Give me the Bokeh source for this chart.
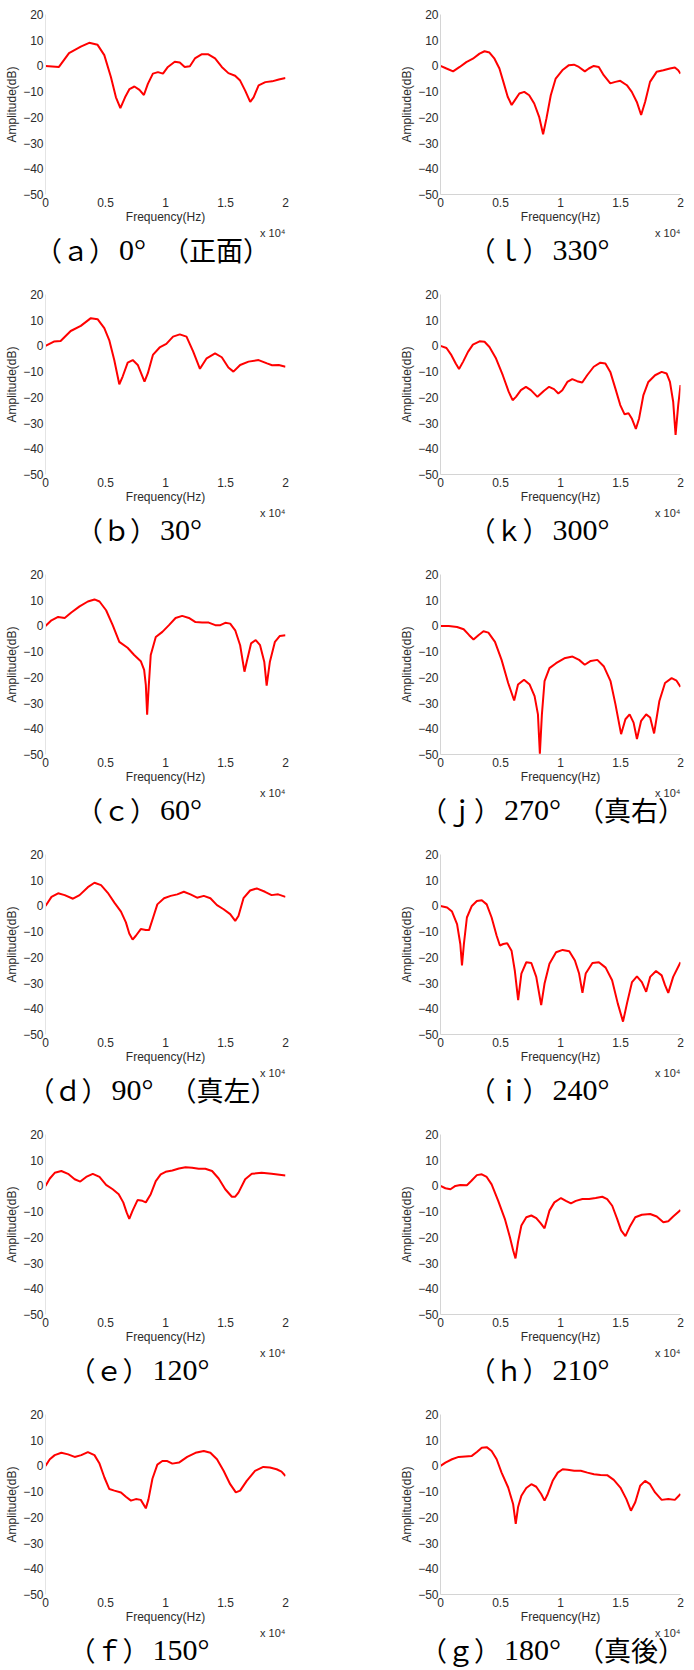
from bokeh.plotting import figure
from bokeh.layouts import column, row
from bokeh.models import Range1d, FixedTicker
from bokeh.core.properties import value
from bokeh.embed import file_html
from bokeh.resources import INLINE

# ---------------- data ----------------
x_ticks = [0, 5000, 10000, 15000, 20000]
x_tick_labels = ["0", "0.5", "1", "1.5", "2"]
y_ticks = [20, 10, 0, -10, -20, -30, -40, -50]
y_tick_labels = ["20", "10", "0", "−10", "−20", "−30", "−40", "−50"]

f_a = [0,1120,1960,2940,3640,4340,4900,5450,5870,6240,6630,7000,7410,7830,8200,8530,8950,9370,9790,10200,10770,11190,11600,12030,12450,13000,13570,14130,14690,15240,15800,16220,16640,17060,17340,17760,18320,18880,19440,20000]
db_a = [0,-0.4,5,7.5,9,8.2,4.2,-4.3,-12.2,-16.4,-12.2,-9,-8,-9.3,-11.3,-7,-3,-2.4,-3,-0.4,1.6,1.3,-0.4,-0.1,2.9,4.5,4.5,2.9,-0.4,-2.8,-3.8,-5.7,-9.6,-14,-12.2,-7.6,-6.3,-6,-5.3,-4.7]

f_b = [0,700,1260,2100,2940,3780,4340,4900,5310,5730,6150,6430,6850,7270,7690,8250,8530,8950,9510,10070,10630,11190,11750,12310,12870,13430,14130,14690,15240,15660,16220,16920,17760,18460,18880,19440,20000]
db_b = [0,1.7,1.9,5.8,7.8,10.8,10.4,6.9,2.3,-5.5,-14.9,-11.9,-6.5,-5.5,-7.4,-13.9,-10.6,-3.5,-0.6,0.8,3.6,4.5,3.6,-2.2,-8.9,-4.8,-2.9,-4.4,-8.4,-10,-7.4,-6.1,-5.5,-6.8,-7.5,-7.4,-8.1]

f_c = [0,500,1050,1600,2150,2840,3530,4080,4500,5050,5600,6150,6840,7390,7940,8220,8360,8470,8610,8770,9190,9740,10290,10840,11390,11950,12500,13050,13600,14150,14570,14980,15390,15810,16220,16580,16770,17130,17520,17880,18230,18430,18700,19120,19530,20000]
db_c = [0,2.2,3.5,3.1,5.2,7.6,9.5,10.3,9.5,6.1,0.3,-6.2,-8.5,-11.3,-13.7,-17.1,-22.9,-34.5,-22.9,-11.3,-4.3,-2.3,0.3,3.1,3.9,3.1,1.5,1.3,1.3,0.3,0.3,1.2,0.9,-1.7,-7.5,-17.8,-13.9,-6.8,-5.5,-7.5,-13.9,-23.2,-13.9,-6.2,-3.9,-3.6]

f_d = [0,500,1050,1600,2290,2840,3530,4080,4630,5190,5740,6290,6700,6980,7260,7530,7940,8360,8630,8970,9320,9880,10430,10980,11530,12080,12630,13190,13740,14290,14840,15390,15810,16080,16500,17050,17600,18290,18840,19390,20000]
db_d = [0,3.5,4.9,4.2,2.8,4.2,7.3,9,8.1,5.1,1.3,-2.2,-6.4,-10.7,-13.1,-11.6,-9,-9.4,-9.4,-4.5,0.6,3,3.9,4.5,5.5,4.5,3.2,3.9,3,0.3,-1.3,-3.2,-5.8,-3.9,3,6,6.8,5.5,4.2,4.5,3.5]

f_e = [0,360,770,1320,1880,2430,2900,3390,3940,4500,5050,5600,6100,6480,6760,6980,7260,7670,8080,8360,8770,9190,9600,10010,10570,11120,11670,12220,12770,13320,13880,14430,14980,15530,15810,16080,16640,17190,18010,18840,20000]
db_e = [0,2.9,5.1,5.8,4.7,2.6,1.7,3.5,4.7,3.5,0.4,-1.3,-3.2,-6.4,-10.3,-12.8,-9.6,-5.5,-5.8,-6.4,-3.2,1.9,4.5,5.5,6,6.8,7.3,7.1,6.7,6.7,5.8,2.9,-1.3,-4.2,-4.2,-2.6,2.6,4.7,5.1,4.7,4.1]

f_f = [0,360,770,1320,1880,2430,2980,3530,4080,4500,4910,5320,5740,6290,6700,7120,7530,7940,8360,8580,8910,9320,9740,10150,10570,11120,11810,12500,13190,13740,14290,14840,15390,15860,16220,16770,17460,18150,18700,19260,19670,20000]
db_f = [0,2.6,4.2,5.1,4.5,3.5,4.2,5.4,4.2,0.9,-4.5,-9,-9.6,-10.3,-12,-13.5,-12.9,-13.2,-16.5,-13,-5,0.5,1.9,1.9,0.9,1.3,3.5,5.1,5.8,5.1,2.6,-1.9,-7.1,-10.3,-9.6,-5.8,-1.9,-0.4,-0.6,-1.3,-2.2,-3.9]

f_g = [0,410,960,1510,2060,2610,3030,3440,3850,4260,4680,5090,5640,6050,6270,6460,6740,7150,7570,7980,8390,8670,8940,9350,9770,10180,10590,11140,11690,12240,12790,13340,13890,14440,14990,15490,15870,16230,16640,17050,17460,17880,18430,18980,19530,20000]
db_g = [0,1.3,2.6,3.5,3.7,3.9,5.4,7.1,7.3,5.8,2.6,-2.6,-8.4,-14.8,-22.5,-16.1,-11.6,-8.6,-7.1,-8.1,-10.9,-13.5,-10.9,-5.8,-2.6,-1.3,-1.5,-1.9,-1.9,-2.6,-3.2,-3.5,-3.6,-5.4,-8.4,-12.9,-17.4,-14.1,-7.7,-5.8,-7.1,-10.3,-13.2,-12.9,-13.2,-10.9]

f_h = [0,410,830,1240,1650,2200,2560,3030,3440,3850,4260,4810,5360,5780,6050,6250,6460,6740,7150,7570,7980,8340,8670,9080,9490,10040,10450,10870,11280,11830,12380,12930,13480,13890,14310,14720,15050,15410,15760,16230,16780,17470,18020,18570,18980,19390,20000]
db_h = [0,-0.9,-1.3,0,0.4,0.3,1.9,4.2,4.5,3.5,0.6,-5.8,-12.8,-19.9,-25,-28.2,-21.8,-15.4,-12.2,-11.5,-12.5,-14.5,-16.5,-9.6,-6.4,-4.7,-5.8,-6.8,-5.8,-5.1,-5.1,-4.7,-4.2,-5.1,-7.7,-12.8,-17.3,-19.5,-16,-12.2,-11.2,-10.9,-11.9,-14.1,-13.7,-11.9,-9.4]

f_i = [0,550,960,1380,1650,1790,1950,2200,2610,3030,3440,3850,4260,4680,4950,5230,5560,5920,6190,6470,6740,7150,7570,7980,8390,8670,9080,9630,10180,10730,11200,11550,11830,12100,12660,13200,13760,14300,14770,15210,15540,15960,16370,16780,17140,17470,17960,18430,18710,18980,19390,20000]
db_i = [0,-0.6,-2.2,-7.1,-14.8,-23.1,-14.8,-4.5,0,1.9,2.2,0.6,-4.5,-11.6,-15.4,-14.8,-14.5,-17.4,-25.1,-36.6,-26.3,-21.9,-22.2,-27.6,-38.6,-30.2,-22.5,-18,-17.1,-17.6,-21.2,-26.3,-33.8,-26.3,-22.2,-21.9,-24,-28.9,-37.9,-45,-37.9,-29.6,-27.4,-29.6,-33.4,-27.6,-25.3,-27,-30.8,-33.8,-27.6,-21.9]

f_j = [0,690,1380,1930,2390,2750,3160,3580,3990,4540,5090,5640,6140,6460,6960,7430,7840,8120,8280,8450,8670,9080,9630,10320,11000,11550,12020,12520,13070,13620,14170,14580,15050,15410,15760,16090,16370,16720,17140,17470,17800,18240,18710,19260,19670,20000]
db_j = [0,0,-0.4,-1.3,-3.6,-5.3,-3.6,-2.1,-2.6,-6.2,-13.2,-22.2,-29,-22.8,-20.9,-22.8,-27.3,-34.4,-49.7,-34.4,-21.5,-16.4,-14.5,-12.6,-11.9,-13.2,-15.1,-13.6,-13.2,-15.8,-21.5,-30.5,-42.1,-36.3,-34.4,-37.6,-44,-36.9,-34.4,-35.6,-41.8,-29.2,-22.2,-20.3,-21.3,-23.7]

f_k = [0,497,910,1270,1545,1876,2290,2700,3255,3670,4080,4630,5190,5680,6010,6290,6700,7120,7530,8080,8630,9050,9460,9820,10150,10570,10980,11390,11810,12220,12770,13320,13740,14150,14570,14980,15340,15670,15940,16280,16550,16910,17320,17880,18430,18840,19120,19390,19590,19810,20000]
db_k = [0,-0.8,-3.6,-6.8,-9,-6.2,-2.3,0.5,1.8,1.6,-0.4,-4.9,-11.4,-17.8,-21.1,-19.8,-17.2,-15.9,-17.2,-19.8,-17.4,-15.9,-16.8,-18.5,-17.2,-14,-12.9,-13.7,-14.2,-11.4,-8.1,-6.5,-6.8,-10.1,-16.5,-23,-26.6,-26.2,-28.2,-32.3,-28.2,-19.1,-14,-11.4,-10.1,-10.7,-14,-21.7,-34.6,-23,-15.2]

f_l = [0,497,1048,1600,2150,2700,3255,3670,4080,4500,4910,5240,5600,5930,6200,6570,6980,7390,7810,8220,8550,8830,9190,9600,10150,10700,11120,11530,12030,12360,12770,13190,13600,14150,14570,14980,15530,15940,16360,16720,17050,17460,18010,18570,19120,19530,19810,20000]
db_l = [0,-1,-2.1,-0.4,1.5,2.8,4.8,5.7,5.2,2.8,-1,-6.2,-12,-15.2,-13.3,-10.7,-10.1,-11.4,-14.6,-19.8,-26.6,-20.4,-11.4,-4.9,-1.7,0.3,0.5,-0.4,-2.1,-1,0,-0.4,-3.6,-6.8,-6.2,-5.8,-7.5,-10.1,-14,-19.1,-14,-6.2,-2.3,-1.7,-1,-0.6,-1.7,-3]

left_prefix = ["（ａ）", "（ｂ）", "（ｃ）", "（ｄ）", "（ｅ）", "（ｆ）"]
left_angle = ["0°", "30°", "60°", "90°", "120°", "150°"]
left_suffix = ["（正面）", "", "", "（真左）", "", ""]
right_prefix = ["（ｌ）", "（ｋ）", "（ｊ）", "（ｉ）", "（ｈ）", "（ｇ）"]
right_angle = ["330°", "300°", "270°", "240°", "210°", "180°"]
right_suffix = ["", "", "（真右）", "", "", "（真後）"]
multiplier_text = "x 10⁴"

left_data = [(f_a, db_a), (f_b, db_b), (f_c, db_c), (f_d, db_d), (f_e, db_e), (f_f, db_f)]
right_data = [(f_l, db_l), (f_k, db_k), (f_j, db_j), (f_i, db_i), (f_h, db_h), (f_g, db_g)]

# ---------------- layout (page pixels, page has no margin) ----------------
FW, FH = 240, 180
BT, BB = 14, 33
ROW_H, LAST_ROW_H = 280, 270
CAP_Y = 22
BORDERS = {"L": (45, 62), "R": (93, 12)}
LEFT_W = sum(BORDERS["L"]) + FW            # 347
RIGHT_W = sum(BORDERS["R"]) + FW           # 345
TOTAL_W = LEFT_W + RIGHT_W                 # 692
FRAME_RIGHT = {"L": BORDERS["L"][0] + FW, "R": LEFT_W + BORDERS["R"][0] + FW}
CAP_CENTER = {"L": 152, "R": 552}
X0, X1, Y0, Y1 = 0, 20000, -50, 20
CJK = "Noto Sans CJK JP"
SANS = "Liberation Sans"
SERIF = "Liberation Serif"
CJK_SIZE = 27
NUM_SIZE = 30
SUFFIX_GAP = 16


def make_plot(freq, amp, side):
    bl, br = BORDERS[side]
    p = figure(width=bl + FW + br, height=BT + FH + BB,
               x_range=Range1d(X0, X1), y_range=Range1d(Y0, Y1),
               output_backend="svg", toolbar_location=None,
               min_border_left=bl, min_border_right=br,
               min_border_top=BT, min_border_bottom=BB)
    p.outline_line_color = None
    p.xgrid.visible = False
    p.ygrid.visible = False
    p.background_fill_color = "white"
    p.border_fill_color = "white"

    p.line(freq, amp, line_color="#ff0000", line_width=2)

    for ax in (p.xaxis[0], p.yaxis[0]):
        ax.major_tick_in = 0
        ax.major_tick_out = 0
        ax.minor_tick_line_color = None
        ax.major_label_text_font = SANS
        ax.major_label_text_font_size = "12px"
        ax.major_label_text_color = "#2b2b2b"
        ax.axis_label_text_font = SANS
        ax.axis_label_text_font_size = "12px"
        ax.axis_label_text_font_style = "normal"
        ax.axis_label_text_color = "#2b2b2b"

    p.xaxis.ticker = FixedTicker(ticks=x_ticks)
    p.xaxis.major_label_overrides = {t: s for t, s in zip(x_ticks, x_tick_labels)}
    p.xaxis.axis_label = "Frequency(Hz)"
    p.xaxis.major_label_standoff = 3
    p.xaxis.axis_label_standoff = 0

    p.yaxis.ticker = FixedTicker(ticks=y_ticks)
    p.yaxis.major_label_overrides = {t: s for t, s in zip(y_ticks, y_tick_labels)}
    p.yaxis.axis_label = "Amplitude(dB)"
    p.yaxis.major_label_standoff = 2
    p.yaxis.axis_label_standoff = 1

    if side == "L":
        p.xaxis.axis_line_color = None
        p.yaxis.axis_line_color = "#e4e4e4"
    else:
        p.xaxis.axis_line_color = "#d4d4d4"
        p.yaxis.axis_line_color = "#d4d4d4"
    return p


def add_caption(c, prefix, angle, suffix, side, ycap):
    # "x 10^4" multiplier, right aligned under the plot's right edge
    c.text(x=[FRAME_RIGHT[side]], y=[5], text=[multiplier_text], text_align="right",
           text_baseline="middle", text_font=value(SANS),
           text_font_size=value("11px"), text_color="#2b2b2b")
    numw = (NUM_SIZE * 0.5) * (len(angle) - 1) + NUM_SIZE * 0.4
    pre_w = 3 * CJK_SIZE
    total = pre_w + 3 + numw + ((SUFFIX_GAP + 4 * CJK_SIZE) if suffix else CJK_SIZE)
    num_x = CAP_CENTER[side] - total / 2 + pre_w + 3
    c.text(x=[num_x - 3], y=[ycap], text=[prefix], text_align="right",
           text_baseline="middle", text_font=value(CJK),
           text_font_size=value(f"{CJK_SIZE}px"), text_color="black")
    c.text(x=[num_x], y=[ycap], text=[angle], text_align="left",
           text_baseline="middle", text_font=value(SERIF),
           text_font_size=value(f"{NUM_SIZE}px"), text_color="black")
    if suffix:
        c.text(x=[num_x + numw + SUFFIX_GAP], y=[ycap], text=[suffix],
               text_align="left", text_baseline="middle", text_font=value(CJK),
               text_font_size=value(f"{CJK_SIZE}px"), text_color="black")


def make_caption_row(i, cap_h):
    cl, cr = BORDERS["L"][0], TOTAL_W - FRAME_RIGHT["R"]
    c = figure(width=TOTAL_W, height=cap_h,
               x_range=Range1d(cl, TOTAL_W - cr), y_range=Range1d(cap_h, 0),
               x_axis_type=None, y_axis_type=None,
               output_backend="svg", toolbar_location=None,
               min_border_left=cl, min_border_right=cr,
               min_border_top=0, min_border_bottom=0)
    c.outline_line_color = None
    c.grid.visible = False
    c.background_fill_color = "white"
    c.border_fill_color = "white"
    add_caption(c, left_prefix[i], left_angle[i], left_suffix[i], "L", CAP_Y)
    add_caption(c, right_prefix[i], right_angle[i], right_suffix[i], "R", CAP_Y)
    return c


children = []
for i in range(6):
    h = ROW_H if i < 5 else LAST_ROW_H
    children.append(row(make_plot(left_data[i][0], left_data[i][1], "L"),
                        make_plot(right_data[i][0], right_data[i][1], "R")))
    children.append(make_caption_row(i, h - (BT + FH + BB)))

layout = column(*children)
open("out.html", "w").write(file_html(layout, INLINE))
